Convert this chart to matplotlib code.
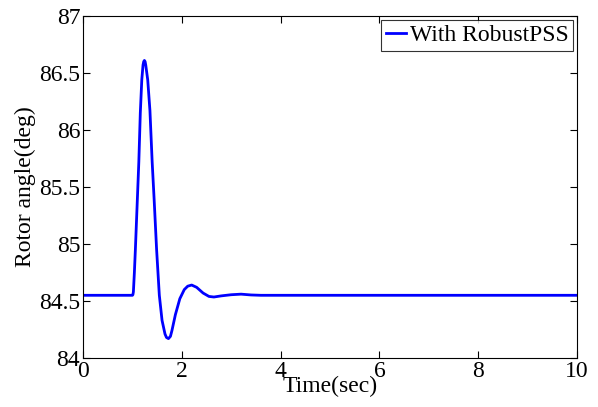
import matplotlib
matplotlib.use("Agg")
import matplotlib.pyplot as plt

# Rotor angle response with the robust PSS (time in s, angle in deg)
time_s = [0.0, 1.0, 1.01, 1.02, 1.04, 1.06, 1.10, 1.13, 1.16, 1.19, 1.215,
          1.229, 1.243, 1.257, 1.27, 1.31, 1.355, 1.40, 1.44, 1.49, 1.545,
          1.60, 1.66, 1.69, 1.73, 1.77, 1.80, 1.87, 1.96, 2.05, 2.12, 2.2,
          2.3, 2.43, 2.55, 2.65, 2.8, 3.0, 3.2, 3.4, 3.6, 10.0]
rotor_angle = [84.55, 84.55, 84.555, 84.58, 84.75, 84.95, 85.39, 85.72, 86.15,
               86.44, 86.57, 86.60, 86.61, 86.60, 86.57, 86.44, 86.17, 85.72,
               85.39, 84.95, 84.55, 84.33, 84.21, 84.18, 84.17, 84.19, 84.24,
               84.38, 84.52, 84.60, 84.63, 84.64, 84.62, 84.57, 84.54, 84.535,
               84.545, 84.555, 84.56, 84.553, 84.55, 84.55]

x_ticks = [0, 2, 4, 6, 8, 10]
y_ticks = [84, 84.5, 85, 85.5, 86, 86.5, 87]
y_tick_labels = ["84", "84.5", "85", "85.5", "86", "86.5", "87"]

plt.rcParams["font.family"] = ["Liberation Serif", "DejaVu Serif"]

fig = plt.figure(figsize=(5.98, 4.07), dpi=100)
ax = fig.add_axes([0.1388, 0.1204, 0.8261, 0.8403])

ax.plot(time_s, rotor_angle, color="#0000ff", linewidth=2.0,
        label="With RobustPSS", solid_joinstyle="round")

ax.set_xlim(0, 10)
ax.set_ylim(84, 87)
ax.set_xticks(x_ticks)
ax.set_yticks(y_ticks)
ax.set_yticklabels(y_tick_labels)
ax.tick_params(direction="in", top=True, right=True, length=5, width=0.8,
               labelsize=17, pad=2)
for s in ax.spines.values():
    s.set_linewidth(0.8)

ax.set_xlabel("Time(sec)", fontsize=17, labelpad=-4)
ax.set_ylabel("Rotor angle(deg)", fontsize=17, labelpad=2)

leg = ax.legend(loc="upper right", fontsize=17, frameon=True, fancybox=False,
                handlelength=0.85, handletextpad=0.15, borderpad=0.2,
                borderaxespad=0.17)
leg.get_frame().set_edgecolor("black")
leg.get_frame().set_linewidth(0.8)
for h in leg.get_lines():
    h.set_linewidth(2.0)

fig.savefig("out.png", dpi=100)
